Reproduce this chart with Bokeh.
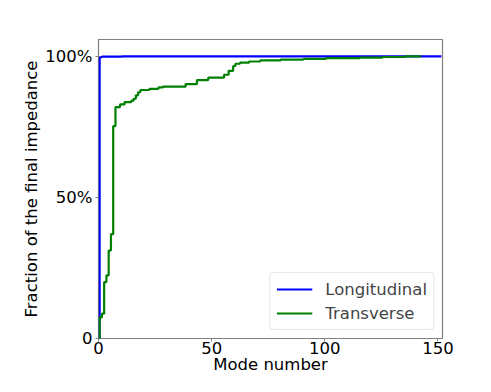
from bokeh.plotting import figure
from bokeh.models import Range1d, FixedTicker, Legend, LegendItem
from bokeh.embed import file_html
from bokeh.resources import INLINE

# Longitudinal: change points (step "after")
long_x = [0, 0.5, 1.5, 10.5, 151.5]
long_y = [0.0, 0.997, 0.999, 1.0, 1.0]

# Transverse: change points (step "after")
trans_x = [0, 0.5, 1.5, 2.5, 3.5, 4.5, 5.5, 6.5, 7.5, 9.5, 11.5, 14.5, 15.5,
           16.5, 17.5, 18.5, 22.5, 26.5, 28.5, 38.5, 43.5, 48.5, 55.5, 57.5,
           59.5, 60.5, 62.5, 66.5, 71.5, 80.5, 90.5, 100.5, 115.5, 125.5,
           135.5, 142.5]
trans_y = [0.0, 0.075, 0.088, 0.20, 0.224, 0.312, 0.37, 0.753, 0.820, 0.830,
           0.838, 0.843, 0.850, 0.862, 0.873, 0.881, 0.885, 0.890, 0.893,
           0.902, 0.916, 0.925, 0.935, 0.949, 0.966, 0.974, 0.978, 0.982,
           0.986, 0.989, 0.991, 0.994, 0.996, 0.998, 1.0, 1.0]

x_ticks = [0, 50, 100, 150]
y_ticks = [0, 0.5, 1.0]
y_tick_labels = {0: "0", 0.5: "50%", 1: "100%"}

FONT = "DejaVu Sans"
FS = "16.5px"

p = figure(width=475, height=376, output_backend="svg", toolbar_location=None,
           x_range=Range1d(0, 152), y_range=Range1d(0, 1.06),
           min_border_left=98, min_border_right=33, min_border_top=39,
           min_border_bottom=30)

r1 = p.step(long_x, long_y, mode="after", line_color="#0000ff", line_width=2.2)
r2 = p.step(trans_x, trans_y, mode="after", line_color="#008000", line_width=2.2)

p.xgrid.visible = False
p.ygrid.visible = False
p.outline_line_color = "#808080"
p.outline_line_width = 1.2

for ax in (p.xaxis[0], p.yaxis[0]):
    ax.axis_line_color = None
    ax.major_tick_line_color = "#808080"
    ax.major_tick_in = 0
    ax.major_tick_out = 3
    ax.minor_tick_line_color = None
    ax.major_label_text_font = FONT
    ax.major_label_text_font_size = FS
    ax.major_label_text_color = "black"
    ax.axis_label_text_font = FONT
    ax.axis_label_text_font_size = FS
    ax.axis_label_text_font_style = "normal"
    ax.axis_label_text_color = "black"

p.xaxis[0].major_label_standoff = 0
p.xaxis[0].axis_label_standoff = -2
p.yaxis[0].major_label_standoff = 3
p.yaxis[0].axis_label_standoff = 1

p.xaxis[0].ticker = FixedTicker(ticks=x_ticks)
p.yaxis[0].ticker = FixedTicker(ticks=y_ticks)
p.yaxis[0].major_label_overrides = y_tick_labels
p.xaxis[0].axis_label = "Mode number"
p.yaxis[0].axis_label = "Fraction of the final impedance"

legend = Legend(items=[LegendItem(label="Longitudinal", renderers=[r1]),
                       LegendItem(label="Transverse", renderers=[r2])],
                location="bottom_right")
legend.label_text_font = FONT
legend.label_text_font_size = FS
legend.glyph_width = 36
legend.label_standoff = 13
legend.spacing = 4
legend.padding = 6
legend.margin = 8
legend.border_line_color = "#d0d0d0"
legend.border_line_width = 1
legend.border_radius = 4
legend.background_fill_alpha = 0.8
p.add_layout(legend)

open("out.html", "w").write(file_html(p, INLINE))
